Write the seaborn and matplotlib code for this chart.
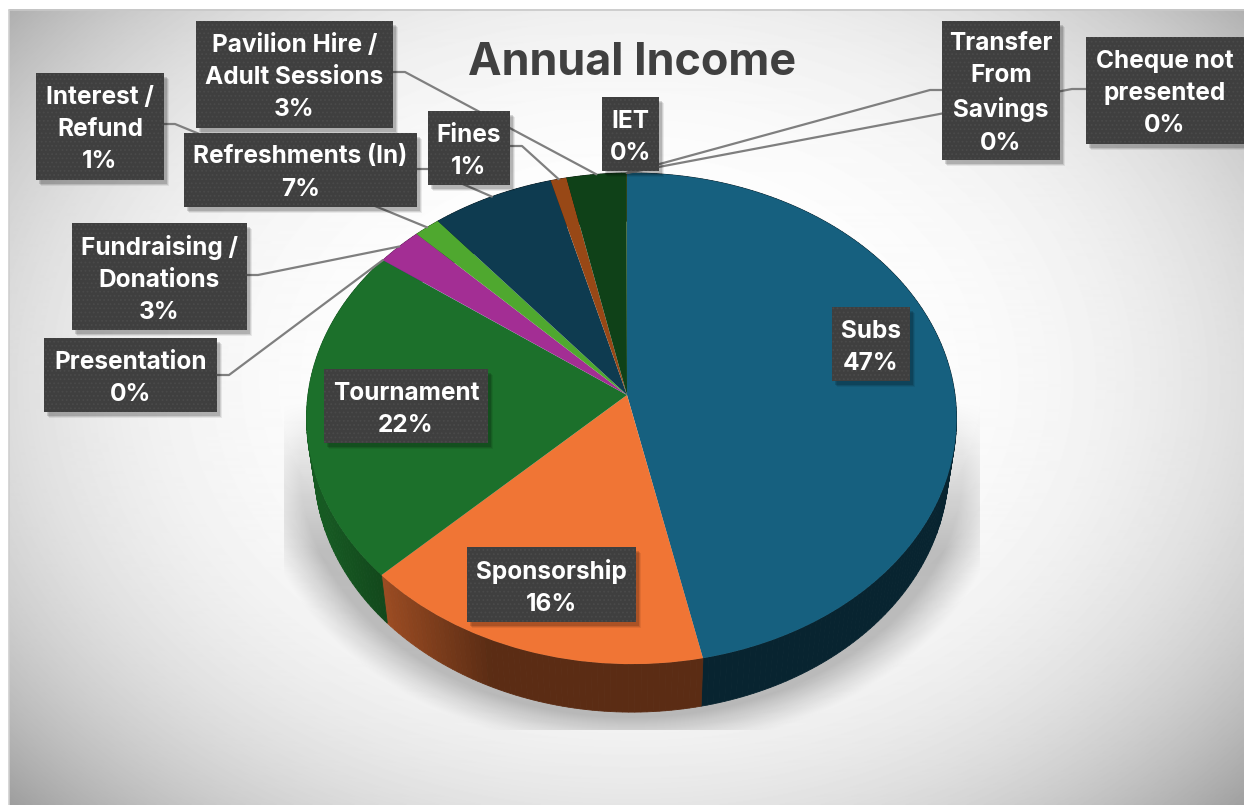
import numpy as np
import matplotlib
matplotlib.use("Agg")
import matplotlib.pyplot as plt
from matplotlib.patches import Rectangle
from matplotlib.transforms import Transform
from matplotlib.colors import to_rgb
import seaborn as sns

# Data, clockwise from 12 o'clock
categories = ["Subs", "Sponsorship", "Tournament", "Presentation", "Fundraising /\nDonations",
              "Interest /\nRefund", "Refreshments (In)", "Fines", "Pavilion Hire /\nAdult Sessions",
              "IET", "Transfer\nFrom\nSavings", "Cheque not\npresented"]
shares = [46.6, 16.1, 22.38, 0.01, 2.55, 1.45, 6.75, 0.87, 3.27, 0.01, 0.005, 0.005]
slice_colors = ["#16607F", "#F07535", "#1C702B", "#0F9ED5", "#A32E94", "#4FA82F",
                "#0E3B50", "#984816", "#0F4118", "#4FA82F", "#0E3B50", "#984816"]

# label box (x0, y0, x1, y1) in pixels
boxes = [(832, 307, 910, 381), (467, 547, 636, 622), (324, 369, 488, 443), (44, 338, 217, 412),
         (72, 223, 247, 330), (36, 73, 164, 180), (184, 133, 417, 207), (428, 111, 510, 185),
         (196, 21, 393, 128), (602, 97, 659, 171), (942, 21, 1060, 160), (1086, 37, 1244, 144)]
# leader start and elbow in pixels, None = label sits on the slice
leaders = [None, None, None, ((217, 375), (229, 375)), ((247, 275), (258, 275)),
           ((164, 124), (175, 124)), ((417, 169), (428, 169)), ((510, 146), (522, 146)),
           ((393, 72), (405, 72)), ((632, 171), (632, 171)), ((942, 90), (930, 90)),
           ((1086, 89), (1072, 89))]

W, H = 1244, 805
APEX_X, APEX_Y = 627, 395
RX, RY, TILT, LEAN = 323.5, 243.3, 0.0958, 0.0138
DEPTH = 48
FONT = ["Inter", "DejaVu Sans"]


class TiltTransform(Transform):
    # unit pie -> tilted disc in pixels, the pie centre is off the ellipse centre
    input_dims = output_dims = 2

    def transform_non_affine(self, values):
        x, y = np.asarray(values).T
        w = 1 + TILT * y - LEAN * x
        return np.column_stack((APEX_X + RX * x / w, APEX_Y - RY * y / w))


tilt = TiltTransform()


def rim(theta, lower=0.0):
    pt = tilt.transform_non_affine(np.column_stack((np.cos(np.radians(theta)), np.sin(np.radians(theta)))))
    pt[:, 0] = APEX_X + (pt[:, 0] - APEX_X) * (1 - 0.024 * lower)
    pt[:, 1] += DEPTH * lower
    return pt


def wall_shade(x):
    return np.clip(0.38 + 0.27 * (490 - x) / 105, 0.38, 0.8)


sns.set_theme(style="white")
plt.rcParams["font.family"] = FONT
plt.rcParams["hatch.linewidth"] = 0.8

fig = plt.figure(figsize=(W / 100, H / 100), dpi=100, facecolor="white")
ax = fig.add_axes([0, 0, 1, 1])

# plot area gradient
xx, yy = np.meshgrid(np.arange(9, W), np.arange(10, H))
r = np.hypot((xx - 630) / 700, (yy - 380) / 520)
ax.imshow(255 - 65 * (r / 1.07) ** 3.4, cmap="gray", vmin=0, vmax=255, extent=(9, W, H, 10),
          zorder=0, aspect="auto")
ax.plot([9, W], [10, 10], color="#c8c8c8", lw=1.2, zorder=1)
ax.plot([9, 9], [10, H], color="#cfcfcf", lw=1.2, zorder=1)

# floor shadow, cut off by a box like the original
xx, yy = np.meshgrid(np.arange(284, 980), np.arange(400, 730))
r = np.hypot((xx - 631) / 325, (yy - 466) / 246)
shadow = np.zeros(xx.shape + (4,))
shadow[..., 3] = 0.24 * np.clip((1.16 - r) / 0.14, 0, 1) ** 1.2 * np.clip((yy - 400) / 150, 0, 1)
ax.imshow(shadow, extent=(284, 980, 730, 400), zorder=1, aspect="auto")

wedges, _ = ax.pie(shares, colors=slice_colors, startangle=90, counterclock=False, frame=True)
ax.set_aspect("auto")
ax.set_xlim(0, W)
ax.set_ylim(H, 0)
ax.axis("off")
for w in wedges:
    w.set_transform(tilt + ax.transData)
    w.set_zorder(4)
    w.set_linewidth(0)

    # side wall, short strips so the shade can run across it
    steps = np.arange(w.theta1, w.theta2 + 1, 1.0)
    steps = np.append(steps[steps < w.theta2], w.theta2)
    top, low = rim(steps), rim(steps, 1.0)
    base = np.array(to_rgb(w.get_facecolor()[:3]))
    for i in range(len(steps) - 1):
        quad = np.vstack((top[i:i + 2], low[i:i + 2][::-1]))
        c = base * wall_shade(quad[:, 0].mean())
        ax.fill(quad[:, 0], quad[:, 1], color=c, lw=0.6, zorder=3)

# leaders
total = sum(shares)
for w, lead in zip(wedges, leaders):
    if lead is None:
        continue
    end = rim(np.array([(w.theta1 + w.theta2) / 2]))[0]
    ax.plot([lead[0][0], lead[1][0], end[0]], [lead[0][1], lead[1][1], end[1]],
            color="#7f7f7f", lw=1.6, zorder=5, solid_joinstyle="round")

# labels
for name, val, (x0, y0, x1, y1) in zip(categories, shares, boxes):
    for off, a in ((6, 0.07), (5, 0.10), (4, 0.14)):
        ax.add_patch(Rectangle((x0 + off - 1, y0 + off), x1 - x0, y1 - y0, fc="black", ec="none",
                               alpha=a, zorder=6))
    ax.add_patch(Rectangle((x0, y0), x1 - x0, y1 - y0, fc="#3f3f3f", ec="#4a4a4a", lw=0,
                           hatch="....", zorder=7))
    ax.text((x0 + x1) / 2, (y0 + y1) / 2 + 3, f"{name}\n{val / total * 100:.0f}%", color="white",
            fontsize=17.6, fontweight="bold", ha="center", va="center", linespacing=1.5, zorder=8)

ax.text(632, 63, "Annual Income", color="#404040", fontsize=32.4, fontweight="bold", ha="center",
        va="center", zorder=8)

fig.savefig("out.png", dpi=100)
